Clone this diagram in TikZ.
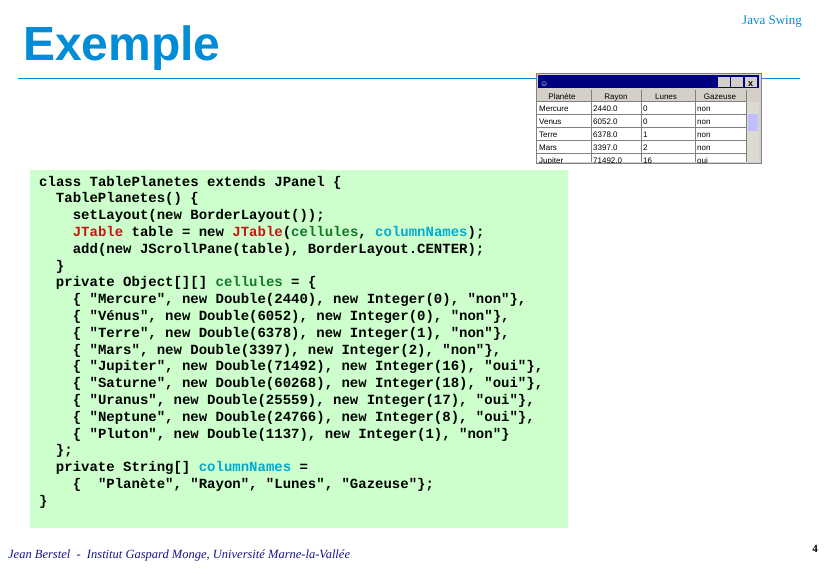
\documentclass[tikz,border=0pt]{standalone}
\usepackage{fontspec}
\setmainfont{Liberation Serif}
\setsansfont{Liberation Sans}
\setmonofont{Liberation Mono}
\definecolor{ttl}{RGB}{0,140,214}
\definecolor{codebg}{RGB}{204,255,204}
\definecolor{kred}{RGB}{200,20,20}
\definecolor{kgreen}{RGB}{20,120,40}
\definecolor{kcyan}{RGB}{0,170,210}
\definecolor{foot}{RGB}{20,20,140}
\definecolor{win}{RGB}{0,0,128}
\definecolor{wgray}{RGB}{212,208,200}
\newcommand{\kR}[1]{\textcolor{kred}{#1}}
\newcommand{\kG}[1]{\textcolor{kgreen}{#1}}
\newcommand{\kC}[1]{\textcolor{kcyan}{#1}}
\begin{document}
\begin{tikzpicture}[x=1pt,y=-1pt,
  code/.style={anchor=base west,inner sep=0pt,font=\fontsize{14}{16.8}\ttfamily\bfseries},
  cell/.style={anchor=base west,inner sep=0pt,font=\fontsize{8}{9}\sffamily}]
\useasboundingbox (0,0) rectangle (828,570);
\node[anchor=base west,inner sep=0pt,text=ttl,font=\fontsize{48}{50}\sffamily\bfseries] (title) at (23,60) {Exemple};
\node[anchor=base east,inner sep=0pt,text=ttl,font=\fontsize{13}{14}\selectfont] (sw) at (802,24) {Java Swing};
\draw[ttl,line width=0.8pt] (18,78) coordinate (l1) -- (800,78) coordinate (l2);
% code box
\fill[codebg] (30,170) rectangle (568,528);
\foreach \i/\ind/\t in {
0/0/{class TablePlanetes extends JPanel \{},
1/2/{TablePlanetes() \{},
2/4/{setLayout(new BorderLayout());},
3/4/{\kR{JTable} table = new \kR{JTable}(\kG{cellules}, \kC{columnNames});},
4/4/{add(new JScrollPane(table), BorderLayout.CENTER);},
5/2/{\}},
6/2/{private Object[][] \kG{cellules} = \{},
7/4/{\{ "Mercure", new Double(2440), new Integer(0), "non"\},},
8/4/{\{ "Vénus", new Double(6052), new Integer(0), "non"\},},
9/4/{\{ "Terre", new Double(6378), new Integer(1), "non"\},},
10/4/{\{ "Mars", new Double(3397), new Integer(2), "non"\},},
11/4/{\{ "Jupiter", new Double(71492), new Integer(16), "oui"\},},
12/4/{\{ "Saturne", new Double(60268), new Integer(18), "oui"\},},
13/4/{\{ "Uranus", new Double(25559), new Integer(17), "oui"\},},
14/4/{\{ "Neptune", new Double(24766), new Integer(8), "oui"\},},
15/4/{\{ "Pluton", new Double(1137), new Integer(1), "non"\}},
16/2/{\};},
17/2/{private String[] \kC{columnNames} =},
18/4/{\{\ \ "Planète", "Rayon", "Lunes", "Gazeuse"\};},
19/0/{\}}}
  \node[code] (c\i) at ({39+\ind*8.4},{186+\i*16.8}) {\t};
% JTable window
\fill[wgray] (536,73) rectangle (761,163);
\draw[gray] (536,73) rectangle (761,163);
\fill[win] (538,75) rectangle (759,88);
\foreach \x in {731,745}{\fill[wgray] (\x,77) rectangle +(12,10);}
\fill[wgray] (718,77) rectangle +(12,10);
\node[cell,text=black,font=\fontsize{9}{9}\sffamily\bfseries] (wx) at (748,86) {x};
\node[cell,text=white] (ico) at (540,86) {\fontsize{8}{8}\selectfont☺};
\fill[white] (537,102) rectangle (746,162);
\foreach \x/\h in {537/Planète,591/Rayon,641/Lunes,695/Gazeuse}
  \node[cell,anchor=base] (h\x) at (\x+25,99) {\h};
\foreach \x in {591,641,695,746} \draw[gray] (\x,90) -- (\x,162);
\foreach \y in {101,114,127,140,153} \draw[gray] (537,\y) -- (746,\y);
\begin{scope}
\clip (537,101) rectangle (746,162);
\foreach \i/\a/\b/\c in {0/Mercure/2440.0/0,1/Venus/6052.0/0,2/Terre/6378.0/1,3/Mars/3397.0/2,4/Jupiter/71492.0/16}{
  \node[cell] (ra\i) at (539,{111+\i*13}) {\a};
  \node[cell] (rb\i) at (593,{111+\i*13}) {\b};
  \node[cell] (rc\i) at (643,{111+\i*13}) {\c};
  \node[cell] (rd\i) at (697,{111+\i*13}) {\ifnum\i<4 non\else oui\fi};}
\end{scope}
\fill[wgray!80] (747,102) rectangle (759,162);
\fill[blue!25] (748,114) rectangle (758,131);
\node[cell,text=ttl,font=\fontsize{12}{13}\itshape] (ft) at (8,558) {};
\node[anchor=base west,inner sep=0pt,text=foot,font=\fontsize{12.5}{13}\itshape] (footer) at (8,558) {Jean Berstel\ \ -\ \ Institut Gaspard Monge, Université Marne-la-Vallée};
\node[anchor=base east,inner sep=0pt,font=\fontsize{11}{12}\bfseries] (pg) at (818,552) {4};
\end{tikzpicture}
\end{document}
